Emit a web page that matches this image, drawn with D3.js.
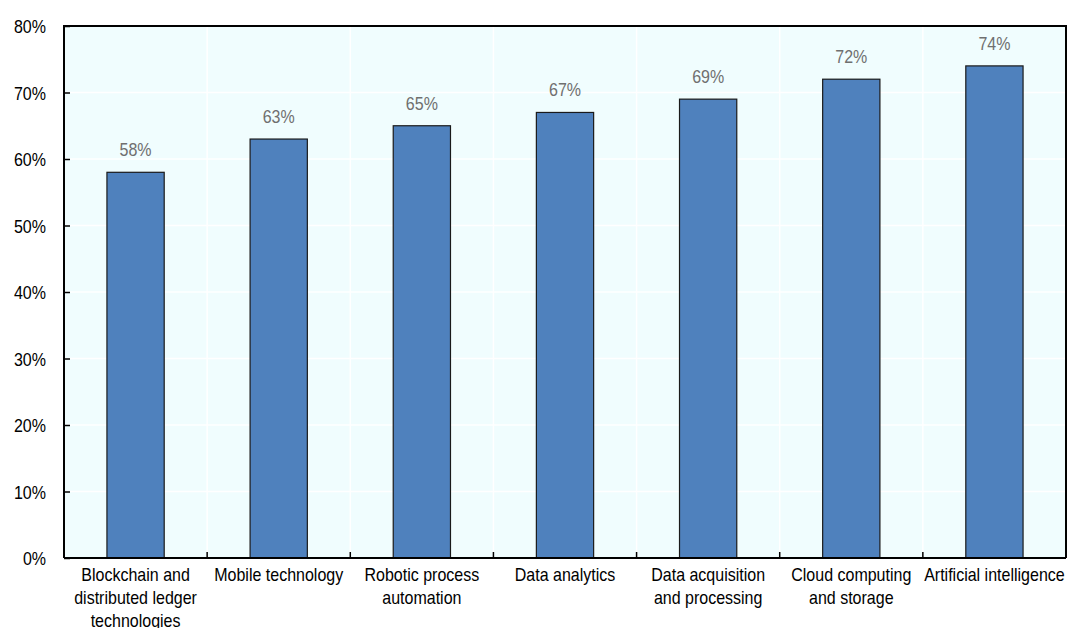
<!DOCTYPE html>
<html><head><meta charset="utf-8">
<script src="https://cdn.jsdelivr.net/npm/d3@7"></script>
<style>body{margin:0;background:#fff}svg{display:block}text{font-family:"Liberation Sans",Arial,sans-serif}</style>
</head><body><svg id="c" width="1068" height="628"></svg>
<script>
const categories = [
  ["Blockchain and","distributed ledger","technologies"],
  ["Mobile technology"],
  ["Robotic process","automation"],
  ["Data analytics"],
  ["Data acquisition","and processing"],
  ["Cloud computing","and storage"],
  ["Artificial intelligence"]
];
const values = [58, 63, 65, 67, 69, 72, 74];
const yTicks = [0, 10, 20, 30, 40, 50, 60, 70, 80];

const FS = 18, SX = 0.89;
const svg = d3.select("#c");
const m = {l: 64, r: 1066, t: 26, b: 558};
const x = d3.scaleBand().domain(d3.range(categories.length)).range([m.l, m.r]).padding(0);
const y = d3.scaleLinear().domain([0, 80]).range([m.b, m.t]);

svg.append("rect").attr("x", m.l).attr("y", m.t).attr("width", m.r - m.l).attr("height", m.b - m.t).attr("fill", "#f0fdfe");

// gridlines
svg.append("g").selectAll("line").data(yTicks.slice(1, -1)).join("line")
  .attr("x1", m.l).attr("x2", m.r).attr("y1", d => y(d)).attr("y2", d => y(d))
  .attr("stroke", "#fff").attr("stroke-width", 1.5);
svg.append("g").selectAll("line").data(d3.range(1, categories.length)).join("line")
  .attr("x1", d => x(d)).attr("x2", d => x(d)).attr("y1", m.t).attr("y2", m.b)
  .attr("stroke", "#fff").attr("stroke-width", 1.5);

// bars
const bw = x.bandwidth() * 0.4;
svg.append("g").selectAll("rect").data(values).join("rect")
  .attr("x", (d, i) => x(i) + (x.bandwidth() - bw) / 2)
  .attr("y", d => y(d)).attr("width", bw).attr("height", d => y(0) - y(d))
  .attr("fill", "#4f81bd").attr("stroke", "#1a1a1a").attr("stroke-width", 1.2);

// value labels
svg.append("g").selectAll("text").data(values).join("text")
  .attr("transform", (d, i) => `translate(${x(i) + x.bandwidth() / 2},${y(d) - 16}) scale(${SX},1)`)
  .attr("text-anchor", "middle").attr("font-size", FS).attr("fill", "#6f6f6f")
  .text(d => d + "%");

// frame
svg.append("path").attr("d", `M${m.l},${m.b}V${m.t}H${m.r}V${m.b}`).attr("fill", "none").attr("stroke", "#000").attr("stroke-width", 2);
svg.append("line").attr("x1", m.l).attr("x2", m.r).attr("y1", m.b).attr("y2", m.b).attr("stroke", "#000").attr("stroke-width", 2);

// y axis
const yAxis = d3.axisLeft(y).tickValues(yTicks).tickFormat(d => d + "%").tickSize(-6).tickPadding(0);
const gy = svg.append("g").attr("transform", `translate(${m.l},0)`).call(yAxis);
gy.select(".domain").remove();
gy.selectAll(".tick line").attr("stroke", "#000").attr("stroke-width", 1.5);
gy.selectAll(".tick text").attr("x", null).attr("dy", null)
  .attr("transform", `translate(-18,6.5) scale(${SX},1)`)
  .attr("font-size", FS).attr("fill", "#000").attr("font-family", "Liberation Sans, Arial, sans-serif");

// x ticks at boundaries
svg.append("g").selectAll("line").data(d3.range(1, categories.length)).join("line")
  .attr("x1", d => x(d)).attr("x2", d => x(d)).attr("y1", m.b).attr("y2", m.b - 6)
  .attr("stroke", "#000").attr("stroke-width", 1.5);

// category labels
const xl = svg.append("g").selectAll("text").data(categories).join("text")
  .attr("transform", (d, i) => `translate(${x(i) + x.bandwidth() / 2},${m.b + 23}) scale(${SX},1)`)
  .attr("text-anchor", "middle").attr("font-size", FS).attr("fill", "#000");
xl.selectAll("tspan").data(d => d).join("tspan")
  .attr("x", 0).attr("dy", (d, i) => i === 0 ? 0 : 23).text(d => d);
</script></body></html>
